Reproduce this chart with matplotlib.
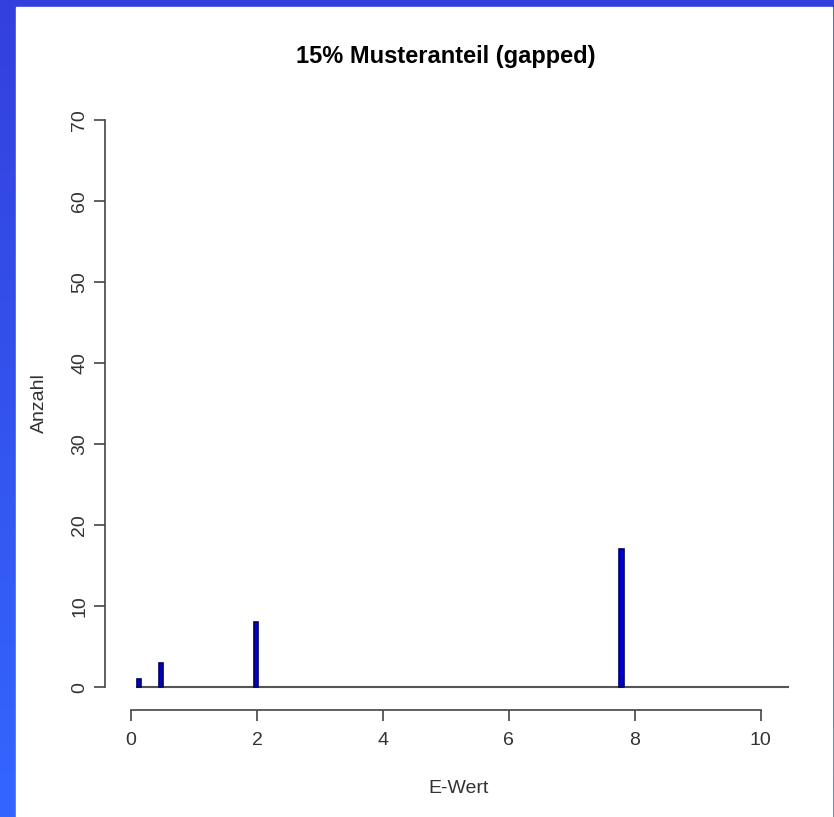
import matplotlib.pyplot as plt
import numpy as np

# E-Wert Verteilung, 15% Musteranteil (gapped)
e_werte = [0.127, 0.476, 1.99, 7.79]
anzahl = [1, 3, 8, 17]
x_ticks = [0, 2, 4, 6, 8, 10]
y_ticks = [0, 10, 20, 30, 40, 50, 60, 70]

plt.rcParams['font.family'] = ['Liberation Sans', 'DejaVu Sans']

fig = plt.figure(figsize=(8.34, 8.17), dpi=100)

# blauer Rahmen mit leichtem Verlauf
bg = fig.add_axes([0, 0, 1, 1])
grad = np.linspace(0, 1, 256).reshape(-1, 1)
top = np.array([0x33, 0x40, 0xdd]) / 255
bottom = np.array([0x33, 0x66, 0xff]) / 255
img = top + (bottom - top) * grad[:, :, None]
bg.imshow(img, aspect='auto', extent=[0, 1, 0, 1], origin='upper')
bg.add_patch(plt.Rectangle((16 / 834, 0), (832 - 16) / 834, 1 - 7 / 817,
                           color='white', zorder=2))
bg.set_xlim(0, 1)
bg.set_ylim(0, 1)
bg.axis('off')

ax = fig.add_axes([105 / 834, 1 - 710 / 817, 707 / 834, 613 / 817])
ax.set_facecolor('none')

ax.bar(e_werte, anzahl, width=0.065, color='#0000d0', edgecolor='#000060',
       linewidth=1.2, zorder=3)
ax.plot([0.095, 10.43], [0, 0], color='#555555', lw=1.5, zorder=2)

ax.set_xlim(-0.416, 10.816)
ax.set_ylim(-2.8, 72.8)

for s in ['top', 'right']:
    ax.spines[s].set_visible(False)
ax.spines['left'].set_bounds(0, 70)
ax.spines['bottom'].set_bounds(0, 10)
for s in ['left', 'bottom']:
    ax.spines[s].set_color('#444444')
    ax.spines[s].set_linewidth(1.2)

ax.set_xticks(x_ticks)
ax.set_yticks(y_ticks)
ax.tick_params(length=8, width=1.2, color='#444444', labelsize=14,
               labelcolor='#333333', pad=8)
ax.tick_params(axis='y', pad=4)
plt.setp(ax.get_yticklabels(), rotation=90, va='center')

ax.set_xlabel('E-Wert', fontsize=14, color='#333333', labelpad=22)
ax.set_ylabel('Anzahl', fontsize=14, color='#333333', labelpad=17)
fig.text(446 / 834, 1 - 57 / 817, '15% Musteranteil (gapped)', fontsize=17,
         fontweight='bold', ha='center', va='center')

fig.savefig('out.png', dpi=100)
